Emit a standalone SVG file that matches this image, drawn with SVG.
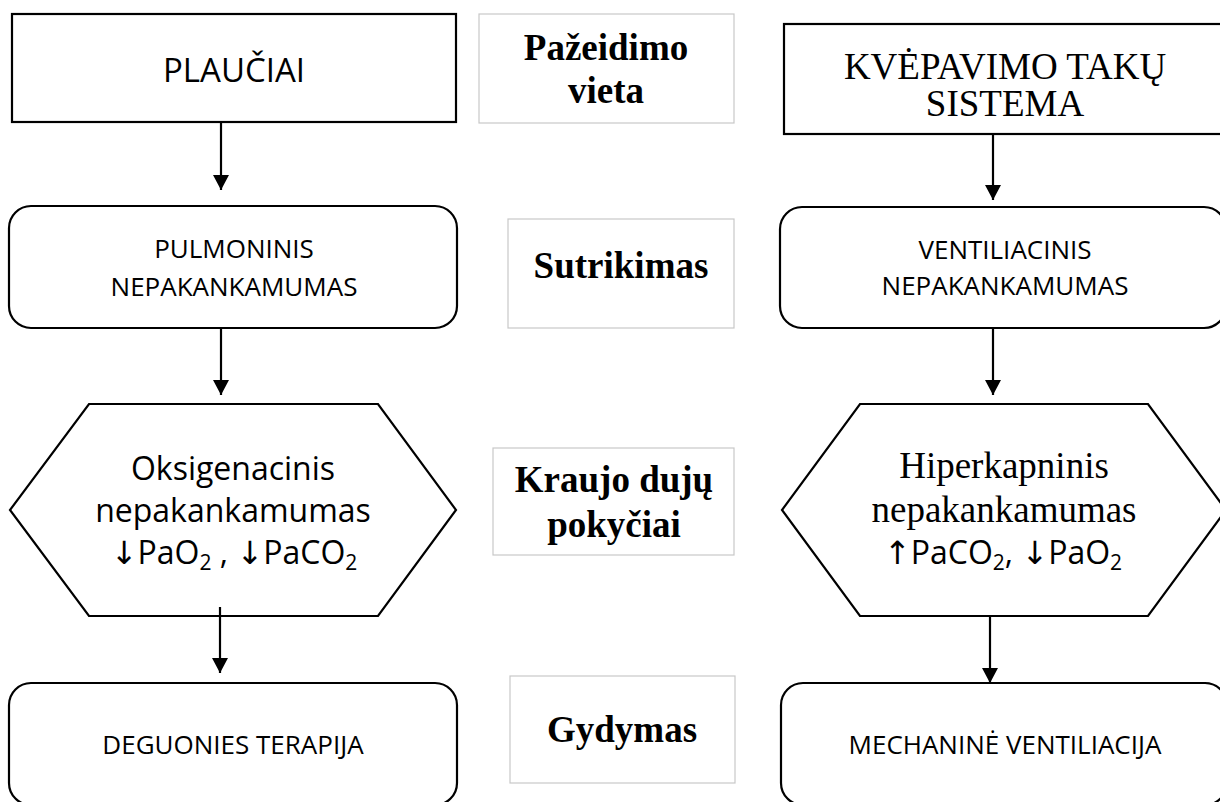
<svg xmlns="http://www.w3.org/2000/svg" width="1220" height="802" viewBox="0 0 1220 802">
<defs>
<marker id="ah" markerWidth="18" markerHeight="18" refX="15" refY="8" orient="auto" markerUnits="userSpaceOnUse">
<path d="M0,0 L15,8 L0,16 Z" fill="#000"/>
</marker>
<style>
.node{fill:#fff;stroke:#000;stroke-width:2.2}
.lbl{fill:#fff;stroke:#c8c8c8;stroke-width:1.2}
.sans{font-family:"Open Sans","Noto Sans","DejaVu Sans",sans-serif;fill:#000;text-anchor:middle}
.serif{font-family:"Liberation Serif","Times New Roman",serif;fill:#000;text-anchor:middle}
.bold{font-family:"Liberation Serif","Times New Roman",serif;font-weight:bold;font-size:37px;fill:#000;text-anchor:middle}
.conn{stroke:#000;stroke-width:2.2;fill:none;marker-end:url(#ah)}
</style>
</defs>
<rect width="1220" height="802" fill="#fff"/>

<g id="plauciai">
<rect class="node" x="12" y="14" width="444" height="108"/>
<text class="sans" x="234" y="82" font-size="33">PLAUČIAI</text>
</g>
<g id="kvepavimo">
<rect class="node" x="784" y="24" width="450" height="110"/>
<text class="serif" x="1005" y="79" font-size="37">KVĖPAVIMO TAKŲ</text>
<text class="serif" x="1005" y="116" font-size="37">SISTEMA</text>
</g>
<g id="pazeidimo">
<rect class="lbl" x="479" y="14" width="255" height="109"/>
<text class="bold" x="606" y="60">Pažeidimo</text>
<text class="bold" x="606" y="103">vieta</text>
</g>

<g id="pulmoninis">
<rect class="node" x="9" y="206" width="448" height="122" rx="22"/>
<text class="sans" x="234" y="258" font-size="26">PULMONINIS</text>
<text class="sans" x="234" y="296" font-size="26">NEPAKANKAMUMAS</text>
</g>
<g id="ventiliacinis">
<rect class="node" x="780" y="207" width="446" height="121" rx="22"/>
<text class="sans" x="1005" y="259" font-size="26">VENTILIACINIS</text>
<text class="sans" x="1005" y="295" font-size="26">NEPAKANKAMUMAS</text>
</g>
<g id="sutrikimas">
<rect class="lbl" x="508" y="219" width="226" height="109"/>
<text class="bold" x="621" y="278">Sutrikimas</text>
</g>

<g id="oksigenacinis">
<polygon class="node" points="89,404 378,404 456,510 378,616 89,616 10,510"/>
<text class="sans" x="233" y="480" font-size="32">Oksigenacinis</text>
<text class="sans" x="233" y="522" font-size="32">nepakankamumas</text>
<text class="sans" x="234" y="564" font-size="32">↓PaO<tspan font-size="21" dy="6">2</tspan><tspan dy="-6"> , ↓PaCO</tspan><tspan font-size="21" dy="6">2</tspan></text>
</g>
<g id="hiperkapninis">
<polygon class="node" points="860,404 1148,404 1226,510 1148,616 860,616 782,510"/>
<text class="serif" x="1004" y="478" font-size="37">Hiperkapninis</text>
<text class="serif" x="1004" y="522" font-size="37">nepakankamumas</text>
<text class="sans" x="1003" y="564" font-size="32">↑PaCO<tspan font-size="21" dy="6">2</tspan><tspan dy="-6">, ↓PaO</tspan><tspan font-size="21" dy="6">2</tspan></text>
</g>
<g id="kraujo">
<rect class="lbl" x="493" y="448" width="241" height="107"/>
<text class="bold" x="614" y="492">Kraujo dujų</text>
<text class="bold" x="614" y="537">pokyčiai</text>
</g>

<g id="deguonies">
<rect class="node" x="9" y="683" width="448" height="122" rx="22"/>
<text class="sans" x="233" y="754" font-size="26">DEGUONIES TERAPIJA</text>
</g>
<g id="mechanine">
<rect class="node" x="781" y="683" width="446" height="122" rx="22"/>
<text class="sans" x="1005" y="754" font-size="26">MECHANINĖ VENTILIACIJA</text>
</g>
<g id="gydymas">
<rect class="lbl" x="510" y="676" width="225" height="107"/>
<text class="bold" x="622" y="742">Gydymas</text>
</g>

<g id="connectors">
<line class="conn" x1="221" y1="122" x2="221" y2="190"/>
<line class="conn" x1="993" y1="134" x2="993" y2="200"/>
<line class="conn" x1="221" y1="328" x2="221" y2="395"/>
<line class="conn" x1="993" y1="328" x2="993" y2="395"/>
<line class="conn" x1="220" y1="607" x2="220" y2="673"/>
<line class="conn" x1="990" y1="616" x2="990" y2="683"/>
</g>
</svg>
